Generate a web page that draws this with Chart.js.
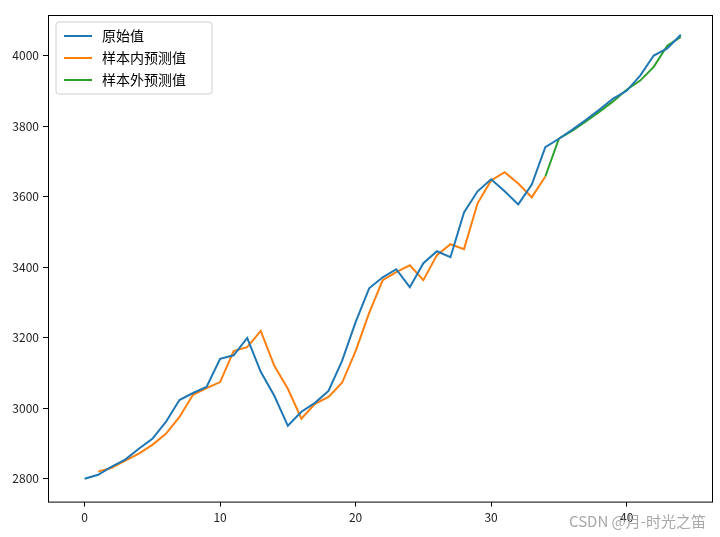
<!DOCTYPE html>
<html>
<head>
<meta charset="utf-8">
<script src="https://cdn.jsdelivr.net/npm/chart.js@4/dist/chart.umd.min.js"></script>
<style>
  body { margin: 0; background: #fff; }
  #wrap { position: relative; width: 720px; height: 537px; }
  #mark { position: absolute; right: 14px; bottom: 6px; font: 15px "Noto Sans CJK SC", sans-serif; color: #a8a8a8; }
</style>
</head>
<body>
<div id="wrap">
  <canvas id="c" width="720" height="537"></canvas>
  <div id="mark">CSDN @月-时光之笛</div>
</div>
<script>
// 原始值, x = 0..44
var original = [2800, 2811, 2834, 2854, 2885, 2913, 2961, 3023, 3043, 3060, 3140, 3150, 3199, 3103, 3035,
    2950, 2990, 3015, 3049, 3134, 3244, 3340, 3371, 3394, 3343, 3411, 3445, 3428, 3555, 3615,
    3649, 3615, 3578, 3634, 3740, 3764, 3790, 3818, 3847, 3878, 3900, 3943, 4000, 4020, 4059];
// 样本内预测值, x = 1..34
var inSample = [2820, 2831, 2851, 2871, 2896, 2927, 2975, 3038, 3057, 3074, 3162, 3173, 3219, 3120, 3055,
    2970, 3012, 3032, 3072, 3162, 3270, 3363, 3386, 3405, 3363, 3434, 3465, 3451, 3581, 3646,
    3669, 3637, 3598, 3657];
// 样本外预测值, x = 34..44
var outSample = [3657, 3764, 3787, 3813, 3841, 3870, 3903, 3929, 3968, 4028, 4053];

var yTicks = [2800, 3000, 3200, 3400, 3600, 3800, 4000];
var xTicks = [0, 10, 20, 30, 40];

function toPoints(values, start) {
    return values.map(function (v, i) { return { x: start + i, y: v }; });
}

var font = { family: '"Noto Sans CJK SC", "DejaVu Sans", sans-serif', size: 12 };

var frameAndLegend = {
    id: 'frameAndLegend',
    afterDraw: function (chart) {
        var a = chart.chartArea, ctx = chart.ctx;
        ctx.save();
        ctx.strokeStyle = '#000';
        ctx.lineWidth = 1;
        ctx.strokeRect(a.left + 0.5, a.top + 0.5, a.right - a.left, a.bottom - a.top);
        // legend box
        var x = a.left + 8, y = a.top + 7;
        ctx.fillStyle = 'rgba(255,255,255,0.8)';
        ctx.strokeStyle = '#d0d0d0';
        ctx.beginPath();
        ctx.roundRect(x, y, 156, 72, 3);
        ctx.fill();
        ctx.stroke();
        ctx.font = '14px ' + font.family;
        ctx.textBaseline = 'middle';
        chart.data.datasets.forEach(function (ds, i) {
            var ly = y + 14 + i * 22;
            ctx.strokeStyle = ds.borderColor;
            ctx.lineWidth = 2;
            ctx.beginPath();
            ctx.moveTo(x + 8, ly);
            ctx.lineTo(x + 36, ly);
            ctx.stroke();
            ctx.fillStyle = '#000';
            ctx.fillText(ds.label, x + 46, ly);
        });
        ctx.restore();
    }
};

new Chart(document.getElementById('c'), {
    type: 'line',
    data: {
        datasets: [
            { label: '原始值', data: toPoints(original, 0), borderColor: '#1f77b4' },
            { label: '样本内预测值', data: toPoints(inSample, 1), borderColor: '#ff7f0e' },
            { label: '样本外预测值', data: toPoints(outSample, 34), borderColor: '#2ca02c' }
        ]
    },
    options: {
        responsive: false,
        animation: false,
        layout: { padding: { left: 2, right: 8, top: 15, bottom: 8 } },
        elements: { point: { radius: 0 }, line: { borderWidth: 2, tension: 0 } },
        plugins: { legend: { display: false }, tooltip: { enabled: false } },
        scales: {
            x: {
                type: 'linear', min: -2.7, max: 46.3,
                afterBuildTicks: function (s) { s.ticks = xTicks.map(function (v) { return { value: v }; }); },
                grid: { drawOnChartArea: false, tickLength: 5, color: '#000' },
                border: { display: false },
                ticks: { color: '#222', font: font, padding: 4, callback: function (v) { return String(v); } }
            },
            y: {
                min: 2735, max: 4115,
                afterBuildTicks: function (s) { s.ticks = yTicks.map(function (v) { return { value: v }; }); },
                afterFit: function (s) { s.width = 46; },
                grid: { drawOnChartArea: false, tickLength: 5, color: '#000' },
                border: { display: false },
                ticks: { color: '#222', font: font, padding: 4, callback: function (v) { return String(v); } }
            }
        }
    },
    plugins: [frameAndLegend]
});
</script>
</body>
</html>
